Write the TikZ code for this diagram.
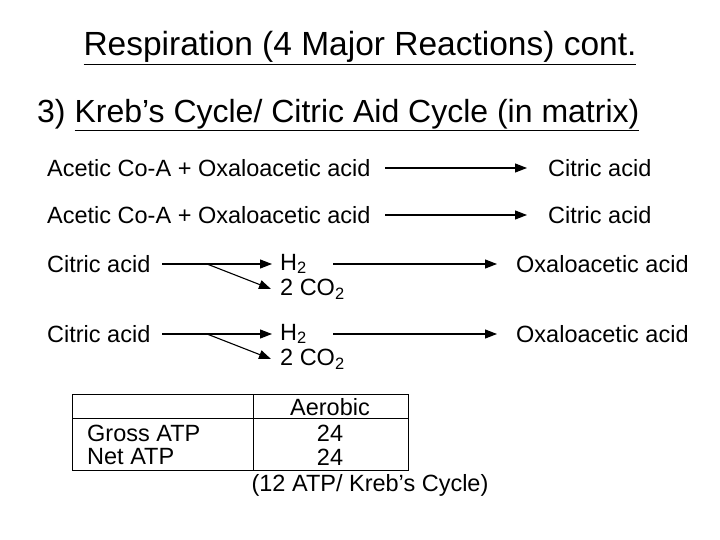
\documentclass[tikz,border=0pt]{standalone}
\usepackage{fontspec}
\setmainfont{Liberation Sans}
\usetikzlibrary{arrows.meta}
\begin{document}
\begin{tikzpicture}[x=1pt,y=1pt,
  txt/.style={inner sep=0pt,anchor=west,font=\fontsize{23.5}{26}\selectfont},
  arr/.style={-{Triangle[length=12pt,width=9pt]},line width=1.1pt},
  cell/.style={inner sep=0pt,font=\fontsize{23.5}{26}\selectfont}]
\useasboundingbox (0,0) rectangle (720,-540);
\node[inner sep=0pt,font=\fontsize{33.5}{36}\selectfont] (title) at (360,-48) {\underline{Respiration (4 Major Reactions) cont.}};
\node[inner sep=0pt,anchor=west,font=\fontsize{32}{34}\selectfont] (sub) at (37,-115) {3) \underline{Kreb’s Cycle/ Citric Aid Cycle (in matrix)}};
\foreach \i/\y in {1/168,2/215}{
  \node[txt] (a\i) at (47,-\y) {Acetic Co-A + Oxaloacetic acid};
  \node[txt] (c\i) at (548,-\y) {Citric acid};
  \coordinate (s\i) at (385,-\y);
  \coordinate (e\i) at (527,-\y);
  \draw[arr] (s\i) -- (e\i);
}
\foreach \i/\y in {3/264,4/334}{
  \node[txt] (ca\i) at (47,-\y) {Citric acid};
  \node[txt] (h\i) at (280,-\y) {H\textsubscript{2}};
  \node[txt] (co\i) at (280,-\y-25) {2 CO\textsubscript{2}};
  \node[txt] (o\i) at (516,-\y) {Oxaloacetic acid};
  \coordinate (p\i) at (162,-\y);
  \coordinate (q\i) at (272,-\y);
  \coordinate (d\i) at (207,-\y);
  \coordinate (g\i) at (271,-\y-25);
  \coordinate (r\i) at (333,-\y);
  \coordinate (t\i) at (497,-\y);
  \draw[arr] (p\i) -- (q\i);
  \draw[arr] (d\i) -- (g\i);
  \draw[arr] (r\i) -- (t\i);
}
\draw[line width=0.8pt] (72,-394) rectangle (408,-470);
\draw[line width=0.8pt] (253,-394) -- (253,-470);
\draw[line width=0.8pt] (72,-418) -- (408,-418);
\node[cell] (aer) at (330,-407) {Aerobic};
\node[cell,anchor=west] (gross) at (87,-433) {Gross ATP};
\node[cell,anchor=west] (net) at (87,-457) {Net ATP};
\node[cell] (g24) at (330,-433) {24};
\node[cell] (n24) at (330,-457) {24};
\node[cell] (cap) at (370,-485) {(12 ATP/ Kreb’s Cycle)};
\end{tikzpicture}
\end{document}
